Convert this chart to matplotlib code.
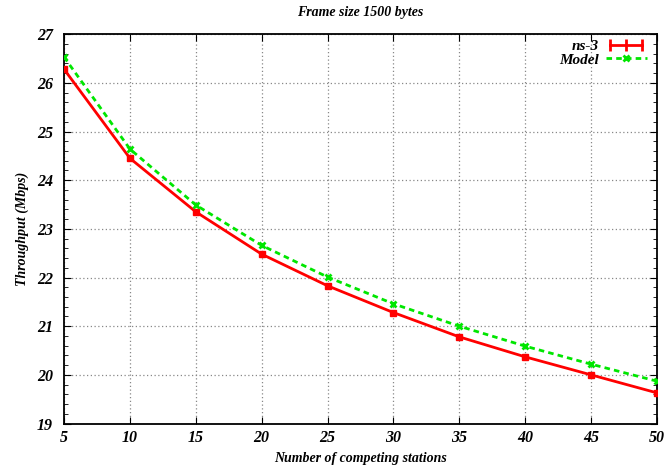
import matplotlib.pyplot as plt
from matplotlib.lines import Line2D
from matplotlib.legend_handler import HandlerLine2D
from matplotlib.ticker import MultipleLocator

# values
stations = [5, 10, 15, 20, 25, 30, 35, 40, 45, 50]
ns3 = [26.28, 24.45, 23.35, 22.48, 21.83, 21.28, 20.78, 20.37, 20.00, 19.63]
model = [26.53, 24.64, 23.49, 22.66, 22.01, 21.46, 21.00, 20.59, 20.22, 19.87]
xticks = [5, 10, 15, 20, 25, 30, 35, 40, 45, 50]
yticks = [19, 20, 21, 22, 23, 24, 25, 26, 27]

plt.rcParams['font.family'] = ['Liberation Serif', 'DejaVu Serif']
font = dict(weight='bold', style='italic')

fig = plt.figure(figsize=(6.67, 4.68), dpi=100)
ax = fig.add_axes([0.096, 0.095, 0.889, 0.832])

red = '#ff0000'
green = '#00e600'
ax.plot(stations, ns3, color=red, lw=2, marker='s', ms=4, mew=1, zorder=3)
ax.plot(stations, model, color=green, lw=2, ls=(0, (2, 1.5)), marker='x', ms=5, mew=2, zorder=3)

ax.set_xlim(5, 50)
ax.set_ylim(19, 27)
ax.set_xticks(xticks)
ax.set_yticks(yticks)
ax.yaxis.set_minor_locator(MultipleLocator(0.2))
ax.tick_params(which='both', direction='in', top=True, right=True, labelsize=11.5)
ax.tick_params(axis='x', pad=5)
ax.tick_params(axis='y', pad=8)
ax.tick_params(which='major', length=5)
ax.tick_params(which='minor', length=3)
for lab in ax.get_xticklabels() + ax.get_yticklabels():
    lab.set_fontweight('bold')
    lab.set_fontstyle('italic')
for s in ax.spines.values():
    s.set_linewidth(1.3)

# light dotted grid like gnuplot
ax.grid(True, which='major', color='#888888', ls=(0, (1, 2)), lw=0.9)

ax.set_xlabel('Number of competing stations', fontsize=10, labelpad=4, **font)
ax.set_ylabel('Throughput (Mbps)', fontsize=10, labelpad=6, **font)
ax.set_title('Frame size 1500 bytes', fontsize=10, pad=13, **font)

h1 = Line2D([], [], color=red, lw=2, marker='|', ms=8, mew=2)
h2 = Line2D([], [], color=green, lw=2, ls=(0, (2, 1.5)), marker='x', ms=5, mew=2)
leg = ax.legend([h1, h2], ['ns-3', 'Model'], loc='upper right', bbox_to_anchor=(1.006, 1.022),
                frameon=False, markerfirst=False, handlelength=2.7, handletextpad=0.45,
                labelspacing=0.0, borderaxespad=0.5,
                handler_map={h1: HandlerLine2D(numpoints=3), h2: HandlerLine2D(numpoints=1)},
                prop=dict(family=['Liberation Serif'], weight='bold', style='italic', size=11))

fig.savefig('out.png', dpi=100)
